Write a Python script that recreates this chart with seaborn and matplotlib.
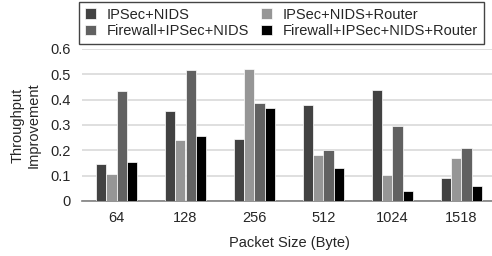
import numpy as np
import pandas as pd
import matplotlib
matplotlib.use("Agg")
import matplotlib.pyplot as plt
import seaborn as sns

sizes = ["64", "128", "256", "512", "1024", "1518"]
series = ["IPSec+NIDS", "IPSec+NIDS+Router",
          "Firewall+IPSec+NIDS", "Firewall+IPSec+NIDS+Router"]
ipsec_nids        = [0.147, 0.357, 0.246, 0.377, 0.440, 0.091]
ipsec_nids_router = [0.107, 0.242, 0.520, 0.183, 0.103, 0.171]
fw_ipsec_nids     = [0.436, 0.516, 0.385, 0.202, 0.298, 0.210]
fw_all_router     = [0.155, 0.258, 0.369, 0.131, 0.040, 0.060]
yticks = [0, 0.1, 0.2, 0.3, 0.4, 0.5, 0.6]
ytick_labels = ["0", "0.1", "0.2", "0.3", "0.4", "0.5", "0.6"]

colors = ["#424242", "#969696", "#616161", "#000000"]

rows = []
for name, vals in zip(series, [ipsec_nids, ipsec_nids_router, fw_ipsec_nids, fw_all_router]):
    for s, v in zip(sizes, vals):
        rows.append({"size": s, "series": name, "value": v})
df = pd.DataFrame(rows)

sns.set_style("white")
plt.rcParams["font.family"] = ["Liberation Sans", "DejaVu Sans"]
plt.rcParams["font.size"] = 10.5

fig = plt.figure(figsize=(4.92, 2.56), dpi=100)
ax = fig.add_axes([82 / 492, 55 / 256, 414 / 492, 152 / 256])

sns.barplot(data=df, x="size", y="value", hue="series", order=sizes,
            hue_order=series, palette=colors, width=0.6, errorbar=None,
            edgecolor="white", linewidth=0.5, saturation=1, ax=ax, zorder=3)

ax.set_ylim(0, 0.6)
ax.set_yticks(yticks)
ax.set_yticklabels(ytick_labels)
ax.yaxis.grid(True, color="#d9d9d9", linewidth=1.2, zorder=0)
ax.set_axisbelow(True)
for sp in ["top", "right", "left"]:
    ax.spines[sp].set_visible(False)
ax.spines["bottom"].set_color("#808080")
ax.spines["bottom"].set_linewidth(1.2)
ax.tick_params(axis="y", length=0, pad=8, labelsize=10.5)
ax.tick_params(axis="x", length=0, pad=7, labelsize=10.5)

ax.set_xlabel("Packet Size (Byte)", fontsize=10.5, labelpad=8)
ax.set_ylabel("Throughput\nImprovement", fontsize=10.5)
ax.yaxis.set_label_coords(-0.1, 0.5)

handles, labels = ax.get_legend_handles_labels()
ax.get_legend().remove()
idx = [0, 2, 1, 3]
leg = fig.legend([handles[i] for i in idx], [labels[i] for i in idx],
                 ncol=2, loc="upper left", bbox_to_anchor=(79 / 492, 1 - 2 / 256),
                 frameon=True, fancybox=False, framealpha=1, edgecolor="#444444",
                 fontsize=10.5, handlelength=0.75, handleheight=0.75,
                 handletextpad=0.75, columnspacing=0.8, labelspacing=0.15,
                 borderpad=0.4, borderaxespad=0)
leg.get_frame().set_linewidth(1.0)

fig.savefig("out.png", dpi=100)
